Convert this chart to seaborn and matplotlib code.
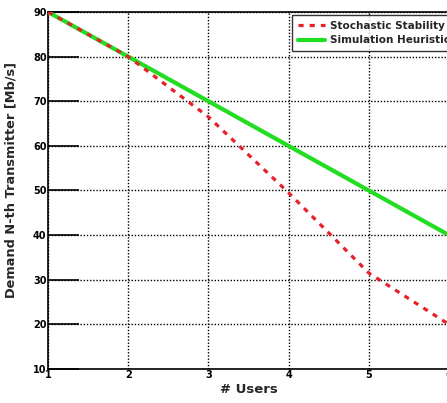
import matplotlib
matplotlib.use("Agg")
import matplotlib.pyplot as plt
import seaborn as sns
import pandas as pd

# Demand per transmitter versus number of users
users = [1, 2, 3, 4, 5, 6]
stochastic_stability = [90, 80, 66.5, 49.5, 31.5, 20]
simulation_heuristic = [90, 80, 70, 60, 50, 40]
series_names = ["Stochastic Stability", "Simulation Heuristic"]
x_ticks = [1, 2, 3, 4, 5, 6]
y_ticks = [10, 20, 30, 40, 50, 60, 70, 80, 90]

sns.set_style("white")
plt.rcParams["font.family"] = ["DejaVu Sans"]
plt.rcParams["font.weight"] = "bold"

df = pd.DataFrame({
    "users": users * 2,
    "demand": stochastic_stability + simulation_heuristic,
    "series": [series_names[0]] * len(users) + [series_names[1]] * len(users),
})

fig = plt.figure(figsize=(4.47, 4.03), dpi=100)
ax = fig.add_axes([48 / 447, 34 / 403, 401 / 447, 357 / 403])

palette = {series_names[0]: "#e8202a", series_names[1]: "#22dd22"}
sns.lineplot(data=df[df.series == series_names[1]], x="users", y="demand",
             color=palette[series_names[1]], linewidth=3.0, ax=ax,
             label=series_names[1], zorder=3)
sns.lineplot(data=df[df.series == series_names[0]], x="users", y="demand",
             color=palette[series_names[0]], linewidth=2.3, ax=ax,
             label=series_names[0], zorder=4, dashes=False)
ax.lines[-1].set_dashes((1.6, 1.9))

ax.set_xlim(1, 6)
ax.set_ylim(10, 90)
ax.set_xticks(x_ticks)
ax.set_yticks(y_ticks)
ax.tick_params(axis="both", labelsize=7, pad=1, colors="black")
for lbl in ax.get_xticklabels() + ax.get_yticklabels():
    lbl.set_fontweight("bold")
ax.tick_params(axis="y", direction="in", length=22, width=1.2, left=True)
ax.tick_params(axis="x", direction="in", length=0, bottom=True)

ax.grid(True, linestyle=(0, (1, 1.3)), color="black", linewidth=1.0)
for s in ax.spines.values():
    s.set_color("black")
    s.set_linewidth(1.2)

ax.set_xlabel("# Users", fontsize=9.5, fontweight="bold", labelpad=2)
ax.set_ylabel("Demand N-th Transmitter [Mb/s]", fontsize=9.3,
              fontweight="bold")
ax.yaxis.set_label_coords(-0.075, 0.53)

handles, labels = ax.get_legend_handles_labels()
order = [labels.index(n) for n in series_names]
leg = ax.legend([handles[i] for i in order], [labels[i] for i in order],
                loc="upper left", bbox_to_anchor=((292 - 48) / 401, 1 - 3 / 357),
                frameon=True, fancybox=False, edgecolor="black",
                prop={"size": 7.5, "weight": "bold"}, handlelength=2.6,
                handletextpad=0.5, borderpad=0.55, labelspacing=0.45,
                borderaxespad=0)
leg.get_frame().set_linewidth(1.0)

fig.savefig("out.png", dpi=100)
